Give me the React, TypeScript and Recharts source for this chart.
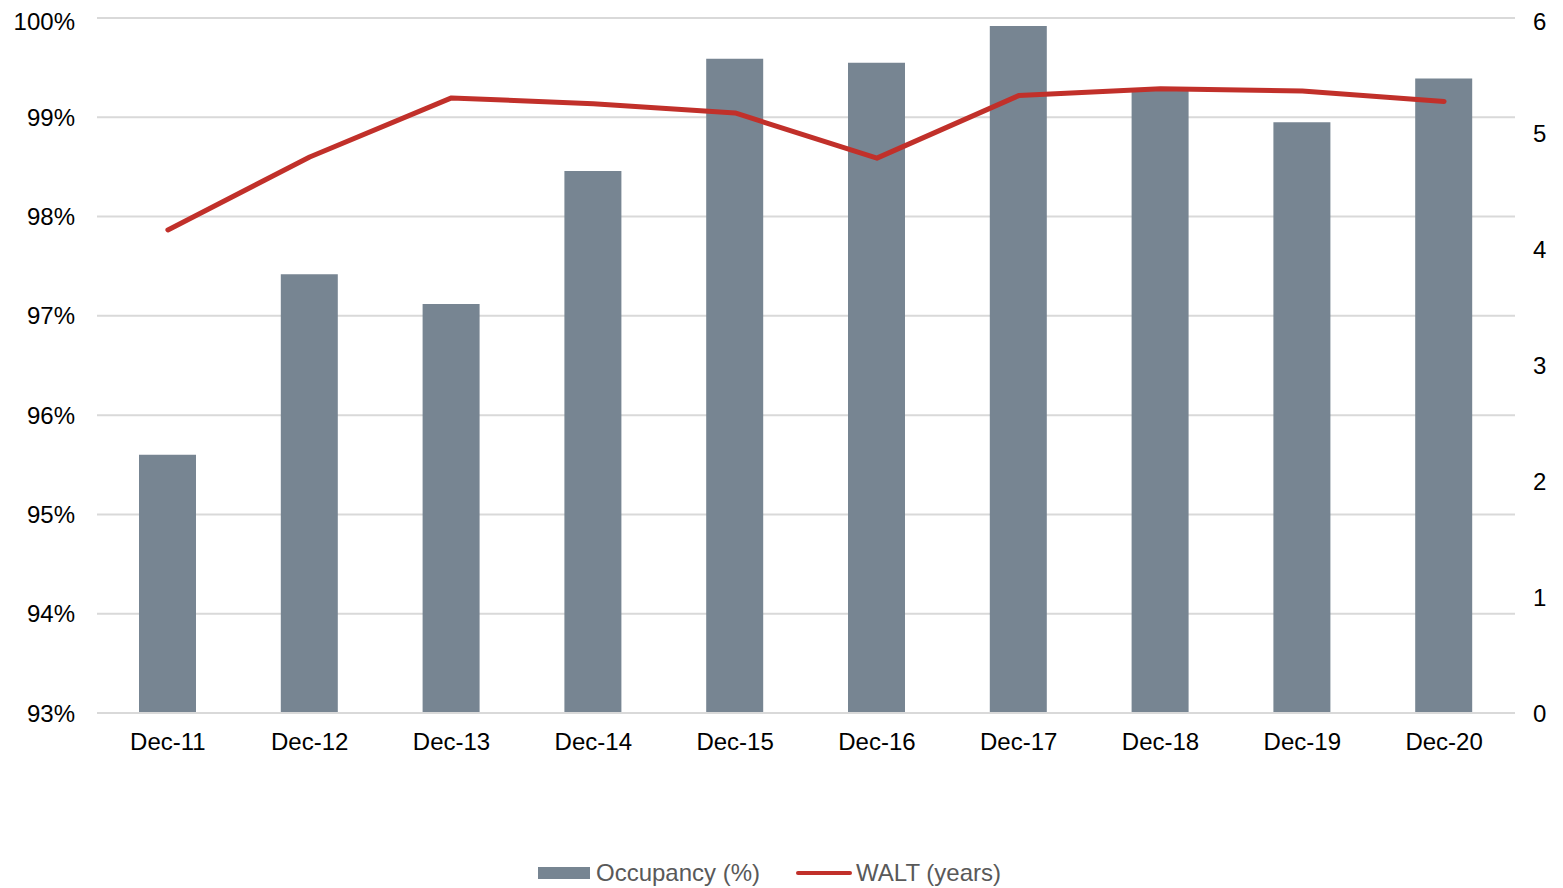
import { ComposedChart, Bar, Line, XAxis, YAxis, CartesianGrid, Legend } from "recharts";

const periods = ["Dec-11", "Dec-12", "Dec-13", "Dec-14", "Dec-15", "Dec-16", "Dec-17", "Dec-18", "Dec-19", "Dec-20"];
const occupancy = [95.6, 97.42, 97.12, 98.46, 99.59, 99.55, 99.92, 99.28, 98.95, 99.39];
const walt = [4.17, 4.8, 5.31, 5.26, 5.18, 4.79, 5.33, 5.39, 5.37, 5.28];
const leftTicks = [93, 94, 95, 96, 97, 98, 99, 100];
const rightTicks = [0, 1, 2, 3, 4, 5, 6];
const boundaryTicks = [0, 1, 2, 3, 4, 5, 6, 7, 8, 9, 10];

const data = periods.map((p, i) => ({ period: p, occupancy: occupancy[i], walt: walt[i] }));

const FONT = "'Liberation Sans', Arial, sans-serif";
const BAR = "#778592";
const RED = "#c1302a";
const GRID = "#d9d9d9";

function LegendBox() {
  return (
    <div style={{ height: 30, display: "flex", justifyContent: "flex-start", alignItems: "center", paddingLeft: 530, fontFamily: FONT, fontSize: 24, color: "#595959" }}>
      <span style={{ display: "inline-block", width: 52, height: 12, background: BAR, marginRight: 6 }} />
      <span style={{ marginRight: 36 }}>Occupancy (%)</span>
      <span style={{ display: "inline-block", width: 56, height: 4, borderRadius: 2, background: RED, marginRight: 4 }} />
      <span>WALT (years)</span>
    </div>
  );
}

export default function App() {
  return (
    <div style={{ fontFamily: FONT }}>
      <ComposedChart width={1555} height={880} data={data} margin={{ top: 10, right: 8, left: 0, bottom: 0 }}>
        <CartesianGrid yAxisId="left" vertical={false} stroke={GRID} strokeWidth={2} />
        <XAxis
          xAxisId="a"
          type="number"
          domain={[0, 10]}
          ticks={boundaryTicks}
          tick={false}
          height={6}
          tickSize={7}
          stroke={GRID}
          strokeWidth={2}
          allowDataOverflow
        />
        <XAxis
          xAxisId="b"
          dataKey="period"
          height={139}
          axisLine={false}
          tickLine={false}
          tickMargin={8}
          tick={{ fill: "#000", fontSize: 24, fontFamily: FONT }}
          interval={0}
        />
        <YAxis
          yAxisId="left"
          width={89}
          domain={[93, 100]}
          ticks={leftTicks}
          tickFormatter={(v) => `${v}%`}
          axisLine={false}
          tickLine={false}
          tickMargin={16}
          tick={{ fill: "#000", fontSize: 24, fontFamily: FONT }}
          allowDataOverflow
        />
        <YAxis
          yAxisId="right"
          orientation="right"
          width={40}
          domain={[0, 6]}
          ticks={rightTicks}
          axisLine={false}
          tickLine={false}
          tickMargin={12}
          tick={{ fill: "#000", fontSize: 24, fontFamily: FONT }}
        />
        <Legend verticalAlign="bottom" align="left" wrapperStyle={{ left: 0, width: 1555 }} content={() => <LegendBox />} />
        <Bar
          xAxisId="b"
          yAxisId="left"
          dataKey="occupancy"
          name="Occupancy (%)"
          fill={BAR}
          barSize={57}
          isAnimationActive={false}
        />
        <Line
          xAxisId="b"
          yAxisId="right"
          type="linear"
          dataKey="walt"
          name="WALT (years)"
          stroke={RED}
          strokeWidth={5}
          strokeLinecap="round"
          strokeLinejoin="round"
          dot={false}
          isAnimationActive={false}
        />
      </ComposedChart>
    </div>
  );
}
